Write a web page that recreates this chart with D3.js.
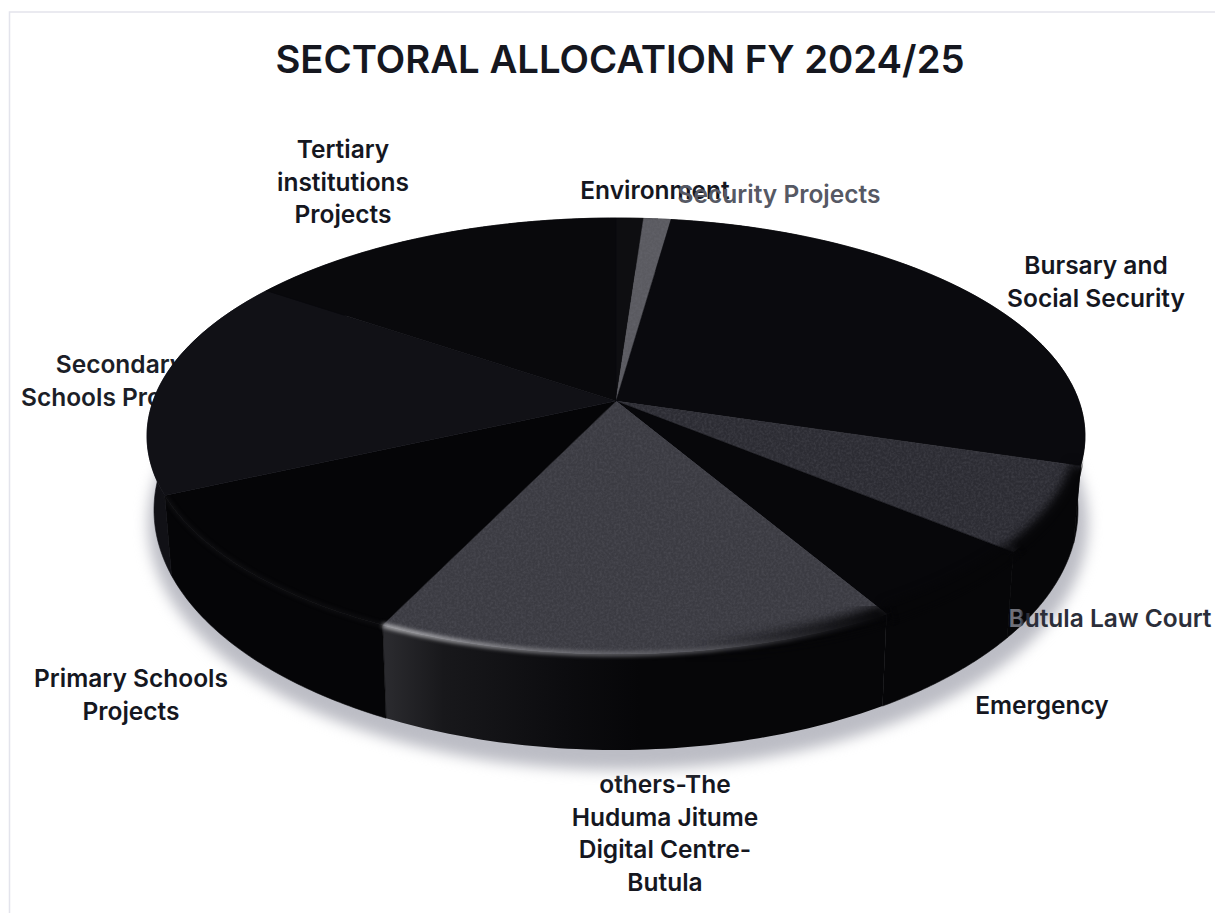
<!DOCTYPE html>
<html>
<head>
<meta charset="utf-8">
<title>Sectoral Allocation FY 2024/25</title>
<script src="https://cdn.jsdelivr.net/npm/d3@7"></script>
<style>
  html, body { margin: 0; padding: 0; background: #fff; }
  svg { display: block; }
  text { font-family: Inter, "Noto Sans", sans-serif; }
</style>
</head>
<body>
<div id="chart"></div>
<script>
// Sector shares of the allocation, clockwise from twelve o'clock (percent, estimated).
const categories = [
  "Environment", "Security Projects", "Bursary and Social Security",
  "Butula Law Court", "Emergency", "others-The Huduma Jitume Digital Centre-Butula",
  "Primary Schools Projects", "Secondary Schools Projects", "Tertiary institutions Projects"
];
const shares = [1.1, 1.1, 27.5, 6.3, 5.6, 15.5, 11.1, 16.4, 15.4];
const topColors = ["#0e0e11", "#5a5a60", "#0a0a0e", "#2c2c33", "#07070a", "#3b3b42", "#050507", "#111116", "#09090c"];
const wallColors = ["#060608", "#141416", "#060608", "#060608", "#060608", "#060608", "#050507", "#111116", "#060608"];

// Label placement: wrapped lines, centre x, first-line centre y, line step, colour.
const labelLines = [
  ["Environment"], ["Security Projects"], ["Bursary and", "Social Security"],
  ["Butula Law Court"], ["Emergency"], ["others-The", "Huduma Jitume", "Digital Centre-", "Butula"],
  ["Primary Schools", "Projects"], ["Secondary", "Schools Projects"], ["Tertiary", "institutions", "Projects"]
];
const labelX = [655, 779, 1096, 1110, 1042, 665, 131, 120, 343];
const labelY = [190, 194, 265, 618, 705, 784, 678, 364, 149];
const labelStep = 32.5;
const labelFill = ["#15171f", "#565964", "#15171f", "url(#lawFade)", "#15171f", "#15171f", "#15171f", "#1b1e27", "#15171f"];
const labelOverPie = 3; // the law court label is the one printed across the wall

const width = 1215, height = 913;

// Projected discs: top face, and the slightly narrower foot of the wall.
const topDisc = { cx: 616, cy: 436, rx: 469, ry: 218 };
const footDisc = { cx: 616, cy: 510, rx: 462, ry: 240 };
const tilt = 0.16; // perspective shift of the disc centre toward the back

const svg = d3.select("#chart").append("svg").attr("width", width).attr("height", height);
const defs = svg.append("defs");

const blur = (id, sd) => defs.append("filter").attr("id", id)
  .attr("color-interpolation-filters", "sRGB")
  .attr("x", "-20%").attr("y", "-20%").attr("width", "140%").attr("height", "140%")
  .append("feGaussianBlur").attr("stdDeviation", sd);
blur("shadowBlur", 7);
blur("rimBlur", 2.2);
blur("edgeBlur", 5);

// Fine woven mottling on the lighter sectors.
const grain = defs.append("filter").attr("id", "grain").attr("color-interpolation-filters", "sRGB")
  .attr("x", "0").attr("y", "0").attr("width", "100%").attr("height", "100%");
grain.append("feTurbulence").attr("type", "fractalNoise").attr("baseFrequency", 0.42).attr("numOctaves", 2).attr("seed", 4).attr("result", "n");
grain.append("feColorMatrix").attr("in", "n").attr("type", "matrix")
  .attr("values", "0 0 0 0 0.5  0 0 0 0 0.5  0 0 0 0 0.54  1.4 0 0 0 -0.5").attr("result", "speck");
grain.append("feComposite").attr("in", "speck").attr("in2", "SourceGraphic").attr("operator", "in").attr("result", "clipped");
grain.append("feComponentTransfer").attr("in", "clipped").attr("result", "soft")
  .append("feFuncA").attr("type", "linear").attr("slope", 0.28);
const gm = grain.append("feMerge");
gm.append("feMergeNode").attr("in", "SourceGraphic");
gm.append("feMergeNode").attr("in", "soft");

const gradient = (id, x1, x2, stops) => {
  const g = defs.append("linearGradient").attr("id", id).attr("gradientUnits", "userSpaceOnUse")
    .attr("x1", x1).attr("x2", x2).attr("y1", 0).attr("y2", 0);
  stops.forEach(([o, c, a]) => g.append("stop").attr("offset", o).attr("stop-color", c).attr("stop-opacity", a === undefined ? 1 : a));
};
// Grey where the letter crosses the dark wall, the normal ink once past it.
gradient("lawFade", 1006, 1026, [[0, "#74757d"], [0.7, "#6a6b73"], [0.85, "#2b2e39"], [1, "#2b2e39"]]);
gradient("othersWall", 388, 640, [[0, "#2a2a2e"], [0.22, "#18181b"], [0.7, "#0c0c0f"], [1, "#060608"]]);
gradient("othersRim", 388, 885, [[0, "#c9c9cc"], [0.3, "#85858a"], [0.65, "#5a5a60"], [0.9, "#1a1a1e"], [1, "#08080a"]]);
gradient("othersEdge", 690, 885, [[0, "#060608", 0], [0.6, "#060608", 0.6], [1, "#060608", 1]]);

// d3.pie gives the true sector angles, then each angle is projected onto the tilted disc.
const arcs = d3.pie().value(d => d).sort(null)(shares);

const projected = (angle) => {
  const X = Math.sin(angle), Y = Math.cos(angle);
  const d = 1 + tilt * Y;
  return [X * Math.sqrt(1 - tilt * tilt) / d, (Y + tilt) / d];
};
const scalesFor = (disc) => ({
  x: d3.scaleLinear().domain([-1, 1]).range([disc.cx - disc.rx, disc.cx + disc.rx]),
  y: d3.scaleLinear().domain([-1, 1]).range([disc.cy + disc.ry, disc.cy - disc.ry])
});
const topS = scalesFor(topDisc), footS = scalesFor(footDisc);
const rimPoints = (s, a0, a1) => d3.range(0, 61).map(i => {
  const [u, v] = projected(a0 + (a1 - a0) * i / 60);
  return [s.x(u), s.y(v)];
});
const line = d3.line();
const apex = [topS.x(0), topS.y(tilt)];

const drawLabel = (parent, i) => {
  const t = parent.append("text").attr("fill", labelFill[i]).attr("dominant-baseline", "central");
  labelLines[i].forEach((ln, k) => t.append("tspan").attr("x", labelX[i]).attr("y", labelY[i] + k * labelStep).text(ln));
};

// Most labels sit behind the pie, which overlaps some of them.
const labels = svg.append("g").attr("font-weight", 600).attr("font-size", 24.5).attr("text-anchor", "middle");
categories.forEach((c, i) => { if (i !== labelOverPie) drawLabel(labels, i); });

svg.append("text").attr("x", 620).attr("y", 59).attr("text-anchor", "middle").attr("dominant-baseline", "central")
  .attr("font-size", 38.3).attr("font-weight", 600).attr("fill", "#15171f").text("SECTORAL ALLOCATION FY 2024/25");

// Sheet edge lines.
svg.append("path").attr("d", "M9.5,913V12H1215").attr("fill", "none").attr("stroke", "#e3e4ec").attr("stroke-width", 1.5);

// Soft shadow under the disc.
svg.append("ellipse").attr("cx", footDisc.cx + 2).attr("cy", footDisc.cy + 14)
  .attr("rx", footDisc.rx + 8).attr("ry", footDisc.ry + 6)
  .attr("fill", "#bcbdc5").attr("filter", "url(#shadowBlur)");

// Wall of each sector.
const walls = svg.append("g");
arcs.forEach((a, i) => {
  const upper = rimPoints(topS, a.startAngle, a.endAngle);
  const lower = rimPoints(footS, a.startAngle, a.endAngle).reverse();
  walls.append("path").attr("d", line(upper.concat(lower)) + "Z")
    .attr("fill", i === 5 ? "url(#othersWall)" : wallColors[i])
    .attr("stroke", i === 5 ? "none" : wallColors[i]).attr("stroke-width", 0.6);
});

// Top face.
const faces = svg.append("g");
arcs.forEach((a, i) => {
  const pts = [apex].concat(rimPoints(topS, a.startAngle, a.endAngle));
  const lighter = i === 1 || i === 3 || i === 5;
  faces.append("path").attr("d", line(pts) + "Z")
    .attr("fill", topColors[i]).attr("stroke", topColors[i]).attr("stroke-width", 0.5)
    .attr("filter", lighter ? "url(#grain)" : null);
});

// Bevel along the front rim.
const clipFace = defs.append("clipPath").attr("id", "faceAndWall");
clipFace.append("ellipse").attr("cx", topDisc.cx).attr("cy", topDisc.cy + 8).attr("rx", topDisc.rx).attr("ry", topDisc.ry + 8);
const bevel = svg.append("g").attr("clip-path", "url(#faceAndWall)");
[3, 4].forEach(i => {
  bevel.append("path").attr("d", line(rimPoints(topS, arcs[i].startAngle, arcs[i].endAngle)))
    .attr("fill", "none").attr("stroke", "#060608").attr("stroke-width", 20).attr("filter", "url(#edgeBlur)");
});
bevel.append("path").attr("d", line(rimPoints(topS, arcs[5].startAngle, arcs[5].endAngle)))
  .attr("fill", "none").attr("stroke", "url(#othersEdge)").attr("stroke-width", 22).attr("filter", "url(#edgeBlur)");
bevel.append("path").attr("d", line(rimPoints(topS, arcs[5].startAngle, arcs[5].endAngle)))
  .attr("fill", "none").attr("stroke", "url(#othersRim)").attr("stroke-width", 4).attr("filter", "url(#rimBlur)");
bevel.append("path").attr("d", line(rimPoints(topS, arcs[6].startAngle, arcs[6].endAngle)))
  .attr("fill", "none").attr("stroke", "#19191c").attr("stroke-width", 2).attr("filter", "url(#rimBlur)");

// The law court label runs over the wall.
const overLabel = svg.append("g").attr("font-weight", 600).attr("font-size", 24.5).attr("text-anchor", "middle");
drawLabel(overLabel, labelOverPie);
</script>
</body>
</html>
